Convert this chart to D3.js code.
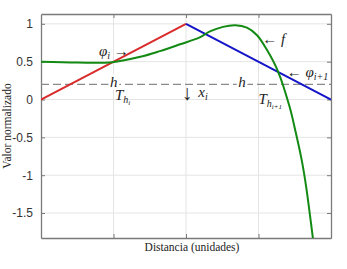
<!DOCTYPE html>
<html>
<head>
<meta charset="utf-8">
<script src="https://cdn.jsdelivr.net/npm/d3@7"></script>
<style>
  html, body { margin: 0; padding: 0; background: #fff; }
  svg { display: block; }
  .tick-label { font-family: "Liberation Sans", Arial, sans-serif; font-size: 12px; fill: #333; }
  .axis-title { font-family: "Liberation Serif", "Times New Roman", serif; font-size: 11.5px; fill: #222; }
  .note { font-family: "Liberation Serif", "DejaVu Serif", serif; font-size: 15px; fill: #222; }
</style>
</head>
<body>
<div id="chart"></div>
<script>
// data
const xTicks = [1, 2, 3];
const yTicks = [-1.5, -1, -0.5, 0, 0.5, 1];
const yTickLabels = ['-1.5', '-1', '-0.5', '0', '0.5', '1'];

const redX = [0, 2];
const redY = [0, 1];
const blueX = [2, 4];
const blueY = [1, 0];

// f
const fX = [0, 0.5, 0.95, 1.37, 1.64, 1.92, 2.19, 2.33, 2.51, 2.68, 2.84, 2.98, 3.12, 3.27, 3.43, 3.51, 3.6, 3.66, 3.75, 3.8];
const fY = [0.5, 0.49, 0.49, 0.565, 0.64, 0.73, 0.82, 0.9, 0.96, 0.98, 0.95, 0.85, 0.65, 0.37, -0.1, -0.42, -0.82, -1.17, -1.83, -2.2];

const hLevel = 0.2;

const width = 347, height = 269;
const margin = {top: 14, right: 16, bottom: 31, left: 41};

const x = d3.scaleLinear().domain([0, 4]).range([margin.left, width - margin.right]);
const y = d3.scaleLinear().domain([-1.83, 1.13]).range([height - margin.bottom, margin.top]);

const svg = d3.select('#chart').append('svg')
	.attr('width', width)
	.attr('height', height);

svg.append('clipPath').attr('id', 'plotclip')
	.append('rect')
	.attr('x', x(0)).attr('y', y(1.13))
	.attr('width', x(4) - x(0)).attr('height', y(-1.83) - y(1.13));

// grid
const grid = svg.append('g').attr('stroke', '#e4e4e4').attr('stroke-width', 1);
grid.selectAll('line.gx').data(xTicks).join('line')
	.attr('x1', d => x(d)).attr('x2', d => x(d))
	.attr('y1', y.range()[0]).attr('y2', y.range()[1]);
grid.selectAll('line.gy').data(yTicks).join('line')
	.attr('y1', d => y(d)).attr('y2', d => y(d))
	.attr('x1', x.range()[0]).attr('x2', x.range()[1]);

// axes, ticks pointing inwards on all four sides
svg.append('g')
	.attr('transform', `translate(${margin.left},0)`)
	.call(d3.axisLeft(y).tickValues(yTicks).tickSizeInner(-4).tickSizeOuter(0).tickPadding(8)
		.tickFormat((d, i) => yTickLabels[i]))
	.call(g => g.selectAll('text').attr('class', 'tick-label').attr('fill', null));
svg.append('g')
	.attr('transform', `translate(${width - margin.right},0)`)
	.call(d3.axisRight(y).tickValues(yTicks).tickSizeInner(-4).tickSizeOuter(0).tickFormat(''));
svg.append('g')
	.attr('transform', `translate(0,${height - margin.bottom})`)
	.call(d3.axisBottom(x).tickValues(xTicks).tickSizeInner(-4).tickSizeOuter(0).tickFormat(''));
svg.append('g')
	.attr('transform', `translate(0,${margin.top})`)
	.call(d3.axisTop(x).tickValues(xTicks).tickSizeInner(-4).tickSizeOuter(0).tickFormat(''));
svg.selectAll('.domain').attr('stroke', '#7a7a7a').attr('stroke-width', 1.3);
svg.selectAll('.tick line').attr('stroke', '#7a7a7a');

// lines
const line = d3.line().x(d => x(d[0])).y(d => y(d[1]));
const plot = svg.append('g').attr('clip-path', 'url(#plotclip)');

plot.append('line')
	.attr('x1', x(0)).attr('x2', x(4))
	.attr('y1', y(hLevel)).attr('y2', y(hLevel))
	.attr('stroke', '#8a8a8a').attr('stroke-width', 1.2)
	.attr('stroke-dasharray', '8,4');

plot.append('path').datum(d3.zip(redX, redY))
	.attr('d', line).attr('fill', 'none').attr('stroke', '#d92b2b').attr('stroke-width', 2);
plot.append('path').datum(d3.zip(blueX, blueY))
	.attr('d', line).attr('fill', 'none').attr('stroke', '#1515c8').attr('stroke-width', 2);
plot.append('path').datum(d3.zip(fX, fY))
	.attr('d', line.curve(d3.curveCatmullRom))
	.attr('fill', 'none').attr('stroke', '#138a13').attr('stroke-width', 2);

// annotations
function note(px, py, parts, size){
	const t = svg.append('text').attr('class', 'note')
		.attr('x', x(px)).attr('y', y(py));
	if(size) t.style('font-size', size + 'px');
	parts.forEach(p => {
		const s = t.append('tspan').text(p.t);
		if(p.i) s.attr('font-style', 'italic');
		if(p.fs) s.style('font-size', p.fs + 'px');
		if(p.dy) s.attr('dy', p.dy);
	});
	return t;
}

function halo(t){
	t.attr('stroke', '#fff').attr('stroke-width', 5).attr('paint-order', 'stroke');
}

note(0.8, 0.57, [{t: 'φ', i: 1}, {t: 'i', i: 1, fs: 10, dy: 3}, {t: ' →', dy: -3}]);
halo(note(0.95, 0.16, [{t: 'h', i: 1}]));
note(1.02, 0.0, [{t: 'T', i: 1}, {t: 'h', i: 1, fs: 10, dy: 3}, {t: 'i', i: 1, fs: 7, dy: 2}]);
note(1.94, 0.0, [{t: '↓'}], 21);
note(2.17, 0.03, [{t: 'x', i: 1}, {t: 'i', i: 1, fs: 10, dy: 3}]);
halo(note(2.72, 0.16, [{t: 'h', i: 1}]));
note(3.0, -0.06, [{t: 'T', i: 1}, {t: 'h', i: 1, fs: 10, dy: 3}, {t: 'i+1', i: 1, fs: 7, dy: 2}]);
note(3.05, 0.73, [{t: '← '}, {t: 'f', i: 1}]);
note(3.39, 0.3, [{t: '← '}, {t: 'φ', i: 1}, {t: 'i+1', i: 1, fs: 10, dy: 3}]);

// axis titles
svg.append('text').attr('class', 'axis-title')
	.attr('x', (x.range()[0] + x.range()[1]) / 2 + 6)
	.attr('y', 251)
	.attr('text-anchor', 'middle')
	.text('Distancia (unidades)');
svg.append('text').attr('class', 'axis-title')
	.attr('transform', `translate(11,${(y.range()[0] + y.range()[1]) / 2}) rotate(-90)`)
	.attr('text-anchor', 'middle')
	.text('Valor normalizado');
</script>
</body>
</html>
